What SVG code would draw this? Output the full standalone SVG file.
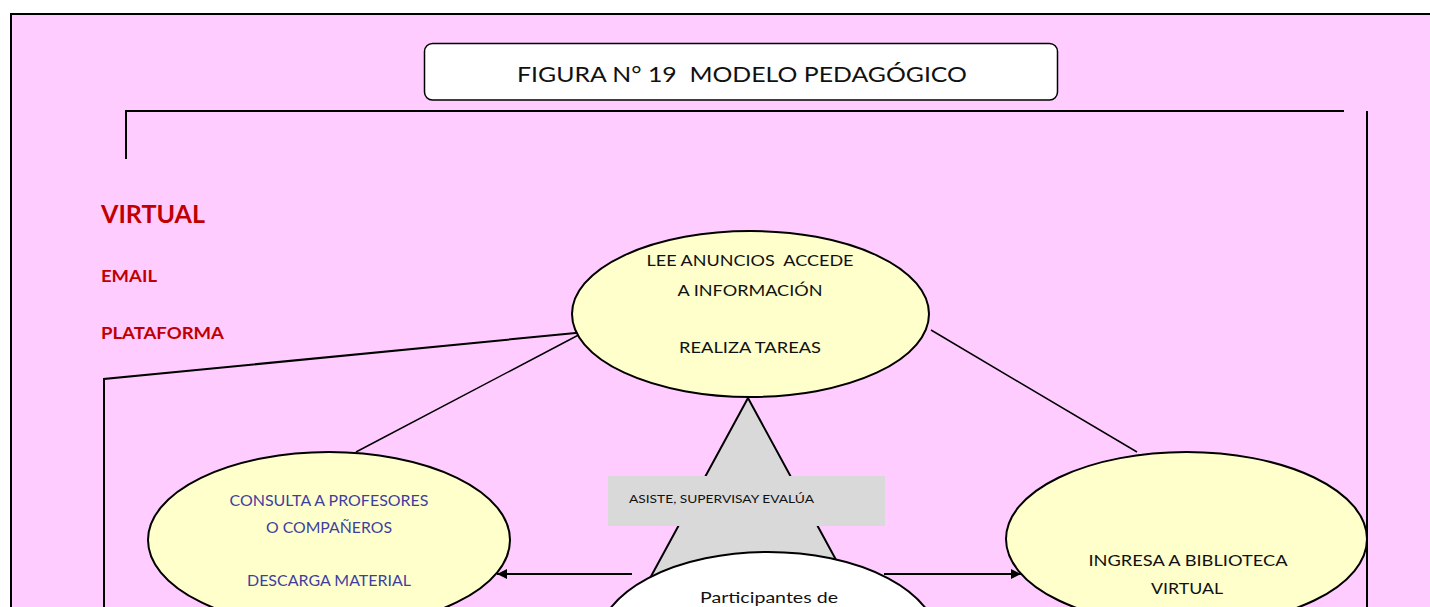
<svg xmlns="http://www.w3.org/2000/svg" width="1430" height="607" viewBox="0 0 1430 607">
  <defs>
    <marker id="arrow" viewBox="0 0 10 10" refX="10" refY="5" markerWidth="10" markerHeight="10" markerUnits="userSpaceOnUse" orient="auto">
      <path d="M0,0 L10,5 L0,10 Z" fill="#000"/>
    </marker>
    <style>
      .ln { stroke:#000; stroke-width:2; fill:none; }
      .thin { stroke:#000; stroke-width:1.5; fill:none; }
      .ell { fill:#ffffcc; stroke:#000; stroke-width:2; }
      text { white-space:pre; }
      .t { font-family:"Lato","Carlito","Liberation Sans",sans-serif; text-anchor:middle; }
      .red { font-family:"Lato","Carlito","Liberation Sans",sans-serif; fill:#c00000; font-weight:bold; }
    </style>
  </defs>
  <rect x="0" y="0" width="1430" height="607" fill="#ffffff"/>
  <rect x="11" y="14" width="1440" height="620" fill="#ffccff" stroke="#000" stroke-width="2"/>

  <g id="title">
    <rect x="424.5" y="43.5" width="633" height="56.5" rx="8" fill="#fff" stroke="#000" stroke-width="1.5"/>
    <text class="t" x="742" y="82" font-size="22" fill="#111" textLength="450" lengthAdjust="spacingAndGlyphs">FIGURA N° 19  MODELO PEDAGÓGICO</text>
  </g>

  <g id="labels">
    <text class="red" x="101" y="223" font-size="25" textLength="104" lengthAdjust="spacingAndGlyphs">VIRTUAL</text>
    <text class="red" x="101" y="282" font-size="17" textLength="56" lengthAdjust="spacingAndGlyphs">EMAIL</text>
    <text class="red" x="101" y="339" font-size="17" textLength="123" lengthAdjust="spacingAndGlyphs">PLATAFORMA</text>
  </g>

  <g id="connectors">
    <polyline class="ln" points="126,159 126,111 1344,111"/>
    <line class="ln" x1="1367" y1="111" x2="1367" y2="607"/>
    <polyline class="ln" points="104,607 104,379 586,332"/>
    <line class="thin" x1="356" y1="452" x2="588" y2="330"/>
    <line class="thin" x1="931" y1="330" x2="1137" y2="452"/>
    <line class="ln" x1="632" y1="574" x2="497" y2="574" marker-end="url(#arrow)"/>
    <line class="ln" x1="884" y1="574" x2="1021" y2="574" marker-end="url(#arrow)"/>
  </g>

  <g id="node-top">
    <ellipse class="ell" cx="750.5" cy="314" rx="178.5" ry="83"/>
    <text class="t" x="750" y="266" font-size="16" fill="#111" textLength="207" lengthAdjust="spacingAndGlyphs">LEE ANUNCIOS  ACCEDE</text>
    <text class="t" x="750" y="296" font-size="16" fill="#111" textLength="145" lengthAdjust="spacingAndGlyphs">A INFORMACIÓN</text>
    <text class="t" x="750" y="353" font-size="16" fill="#111" textLength="142" lengthAdjust="spacingAndGlyphs">REALIZA TAREAS</text>
  </g>

  <g id="node-triangle">
    <polygon points="748,398 624,626 872,626" fill="#d9d9d9" stroke="#000" stroke-width="2"/>
    <rect x="608" y="476" width="277" height="50" fill="#d9d9d9"/>
    <text x="629" y="503" font-family="Lato,Carlito,'Liberation Sans',sans-serif" font-size="11.5" fill="#111" textLength="185" lengthAdjust="spacingAndGlyphs">ASISTE, SUPERVISAY EVALÚA</text>
  </g>

  <g id="node-left">
    <ellipse class="ell" cx="329" cy="540" rx="181" ry="88"/>
    <text class="t" x="329" y="506" font-size="14.5" fill="#3f3f9f" textLength="199" lengthAdjust="spacingAndGlyphs">CONSULTA A PROFESORES</text>
    <text class="t" x="329" y="533" font-size="14.5" fill="#3f3f9f" textLength="126" lengthAdjust="spacingAndGlyphs">O COMPAÑEROS</text>
    <text class="t" x="329" y="586" font-size="14.5" fill="#3f3f9f" textLength="164" lengthAdjust="spacingAndGlyphs">DESCARGA MATERIAL</text>
  </g>

  <g id="node-right">
    <ellipse class="ell" cx="1186.5" cy="539" rx="180.5" ry="87"/>
    <text class="t" x="1188" y="566" font-size="15" fill="#111" textLength="199" lengthAdjust="spacingAndGlyphs">INGRESA A BIBLIOTECA</text>
    <text class="t" x="1187" y="594" font-size="15" fill="#111" textLength="72" lengthAdjust="spacingAndGlyphs">VIRTUAL</text>
  </g>

  <g id="node-bottom">
    <ellipse cx="768" cy="642" rx="170" ry="90" fill="#fff" stroke="#000" stroke-width="2"/>
    <text class="t" x="769" y="603" font-size="16" fill="#111" textLength="138" lengthAdjust="spacingAndGlyphs">Participantes de</text>
  </g>
</svg>
